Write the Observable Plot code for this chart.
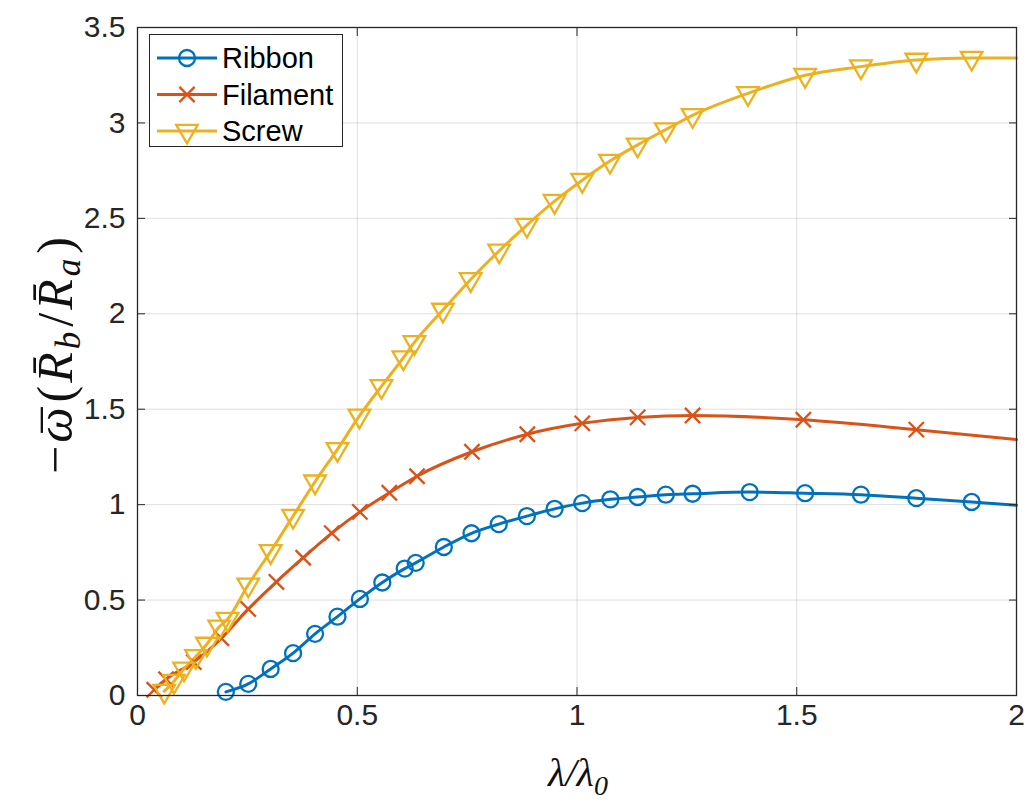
<!DOCTYPE html>
<html><head><meta charset="utf-8">
<script src="https://cdn.jsdelivr.net/npm/d3@7"></script>
<script src="https://cdn.jsdelivr.net/npm/@observablehq/plot@0.6"></script>
<style>
body{margin:0;background:#fff;}
#wrap{position:relative;width:1027px;height:802px;overflow:hidden;}
#legend{position:absolute;left:149px;top:34px;}
</style></head><body><div id="wrap"></div>
<script>
// ---- data ----
const seriesNames = ["Ribbon", "Filament", "Screw"];

const ribbonX = [0.201,0.252,0.303,0.354,0.404,0.455,0.506,0.557,0.608,0.633,0.697,0.760,0.822,0.886,0.949,1.012,1.076,1.138,1.202,1.263,1.393,1.519,1.646,1.772,1.898,2.0];
const ribbonY = [0.019,0.061,0.139,0.222,0.323,0.413,0.506,0.592,0.665,0.695,0.778,0.850,0.898,0.940,0.978,1.008,1.028,1.040,1.052,1.057,1.066,1.060,1.052,1.034,1.014,0.997];

const filamentX = [0.038,0.065,0.128,0.191,0.252,0.316,0.377,0.442,0.506,0.573,0.636,0.761,0.887,1.012,1.138,1.263,1.515,1.772,2.0];
const filamentY = [0.030,0.085,0.175,0.300,0.453,0.595,0.722,0.851,0.962,1.062,1.149,1.277,1.369,1.426,1.457,1.467,1.445,1.393,1.341];

const screwX = [0.061,0.083,0.106,0.133,0.158,0.186,0.205,0.252,0.303,0.354,0.404,0.455,0.505,0.555,0.605,0.630,0.695,0.758,0.823,0.886,0.949,1.012,1.075,1.138,1.202,1.263,1.389,1.519,1.646,1.772,1.898,2.0];
const screwY = [0.023,0.075,0.140,0.205,0.270,0.360,0.400,0.580,0.755,0.940,1.120,1.290,1.465,1.620,1.770,1.850,2.020,2.180,2.330,2.465,2.590,2.700,2.800,2.885,2.965,3.040,3.155,3.250,3.295,3.330,3.340,3.340];

const xTicks = [0, 0.5, 1, 1.5, 2];
const xTickLabels = ["0", "0.5", "1", "1.5", "2"];
const yTicks = [0, 0.5, 1, 1.5, 2, 2.5, 3, 3.5];
const yTickLabels = ["0", "0.5", "1", "1.5", "2", "2.5", "3", "3.5"];

// ---- styles ----
const colors = ["#0072BD", "#D95319", "#EDB120"];
const symbols = ["circle", "times", "triangle"];
const symbolRotate = [0, 0, 180];
const symbolR = [8, 7, 8];
const axisColor = "#262626";
const lineW = 3;
const markW = 2.3;

// ---- build table ----
const xs = [ribbonX, filamentX, screwX];
const ys = [ribbonY, filamentY, screwY];
const rows = seriesNames.flatMap((name, i) =>
  xs[i].map((x, j) => ({series: name, x, y: ys[i][j], marker: j < xs[i].length - 1})));

const dotMarks = seriesNames.map((name, i) =>
  Plot.dot(rows.filter(d => d.series === name && d.marker), {
    x: "x", y: "y", symbol: () => symbols[i], r: symbolR[i], rotate: symbolRotate[i],
    stroke: colors[i], strokeWidth: markW, fill: "none"
  }));

const fontFamily = "'Liberation Sans', Arial, Helvetica, sans-serif";
const blank = () => "";

const chart = Plot.plot({
  width: 1027, height: 802,
  marginLeft: 137, marginRight: 11, marginTop: 27, marginBottom: 107,
  style: {fontFamily, color: axisColor, background: "#fff", overflow: "visible"},
  x: {domain: [0, 2], label: null},
  y: {domain: [0, 3.5], label: null},
  symbol: {type: "identity"},
  marks: [
    Plot.gridX(xTicks, {stroke: "#000", strokeOpacity: 0.13, strokeWidth: 1}),
    Plot.gridY(yTicks, {stroke: "#000", strokeOpacity: 0.13, strokeWidth: 1}),
    Plot.line(rows, {x: "x", y: "y", z: "series", stroke: d => colors[seriesNames.indexOf(d.series)], strokeWidth: lineW, curve: "monotone-x"}),
    ...dotMarks,
    Plot.frame({stroke: axisColor, strokeWidth: 1.3}),
    Plot.axisX(xTicks, {anchor: "bottom", tickSize: 0, tickPadding: 8, fontSize: 30, tickFormat: d => xTickLabels[xTicks.indexOf(d)], label: null}),
    Plot.axisX(xTicks, {anchor: "bottom", tickSize: -8, tickFormat: blank, label: null, stroke: axisColor}),
    Plot.axisX(xTicks, {anchor: "top", tickSize: -8, tickFormat: blank, label: null, stroke: axisColor}),
    Plot.axisY(yTicks, {anchor: "left", tickSize: 0, tickPadding: 12, fontSize: 30, tickFormat: d => yTickLabels[yTicks.indexOf(d)], label: null}),
    Plot.axisY(yTicks, {anchor: "left", tickSize: -8, tickFormat: blank, label: null, stroke: axisColor}),
    Plot.axisY(yTicks, {anchor: "right", tickSize: -8, tickFormat: blank, label: null, stroke: axisColor})
  ]
});

const wrap = document.getElementById("wrap");
wrap.appendChild(chart);

// ---- axis titles (math-like) ----
const svg = d3.select(chart);
const serif = "'Liberation Serif', 'Times New Roman', 'DejaVu Serif', serif";
const yl = svg.append("text")
  .attr("transform", "translate(72,354) rotate(-90)")
  .attr("text-anchor", "middle")
  .attr("font-family", serif).attr("font-size", 50).attr("fill", "#111")
  .attr("letter-spacing", 3);
yl.append("tspan").text("\u2212");
yl.append("tspan").attr("font-style", "italic").text("\u03C9");
yl.append("tspan").attr("dx", "-0.56em").attr("dy", "0.14em").text("\u00AF");
yl.append("tspan").attr("dx", "0.04em").attr("dy", "-0.14em").text("(");
yl.append("tspan").attr("font-style", "italic").text("R\u0304");
yl.append("tspan").attr("font-style", "italic").attr("font-size", 35).attr("dy", 8).text("b");
yl.append("tspan").attr("dy", -8).attr("dx", 2).text("/");
yl.append("tspan").attr("font-style", "italic").text("R\u0304");
yl.append("tspan").attr("font-style", "italic").attr("font-size", 35).attr("dy", 8).text("a");
yl.append("tspan").attr("dy", -8).attr("dx", 2).text(")");

const xl = svg.append("text")
  .attr("x", 578).attr("y", 786)
  .attr("text-anchor", "middle")
  .attr("font-family", serif).attr("font-size", 40).attr("fill", "#111").attr("font-style", "italic");
xl.append("tspan").text("\u03BB/\u03BB");
xl.append("tspan").attr("font-size", 28).attr("dy", 9).text("0");

// ---- legend ----
const legW = 194, legH = 113;
const leg = d3.select(wrap).append("svg").attr("id", "legend")
  .attr("width", legW).attr("height", legH);
leg.append("rect").attr("x", 0.5).attr("y", 0.5).attr("width", legW - 1).attr("height", legH - 1)
  .attr("fill", "#fff").attr("stroke", axisColor).attr("stroke-width", 1);
const symMap = {circle: d3.symbolCircle, times: d3.symbolTimes, triangle: d3.symbolTriangle};
seriesNames.forEach((name, i) => {
  const cy = 24 + i * 36.5;
  const g = leg.append("g");
  g.append("line").attr("x1", 8).attr("x2", 68).attr("y1", cy).attr("y2", cy)
    .attr("stroke", colors[i]).attr("stroke-width", lineW);
  g.append("path").attr("d", d3.symbol(symMap[symbols[i]], Math.PI * symbolR[i] * symbolR[i])())
    .attr("transform", `translate(38,${cy}) rotate(${symbolRotate[i]})`)
    .attr("fill", "none").attr("stroke", colors[i]).attr("stroke-width", markW);
  g.append("text").attr("x", 73).attr("y", cy).attr("dy", "0.36em")
    .attr("font-family", fontFamily).attr("font-size", 29).attr("fill", "#000").text(name);
});
</script>
</body></html>
